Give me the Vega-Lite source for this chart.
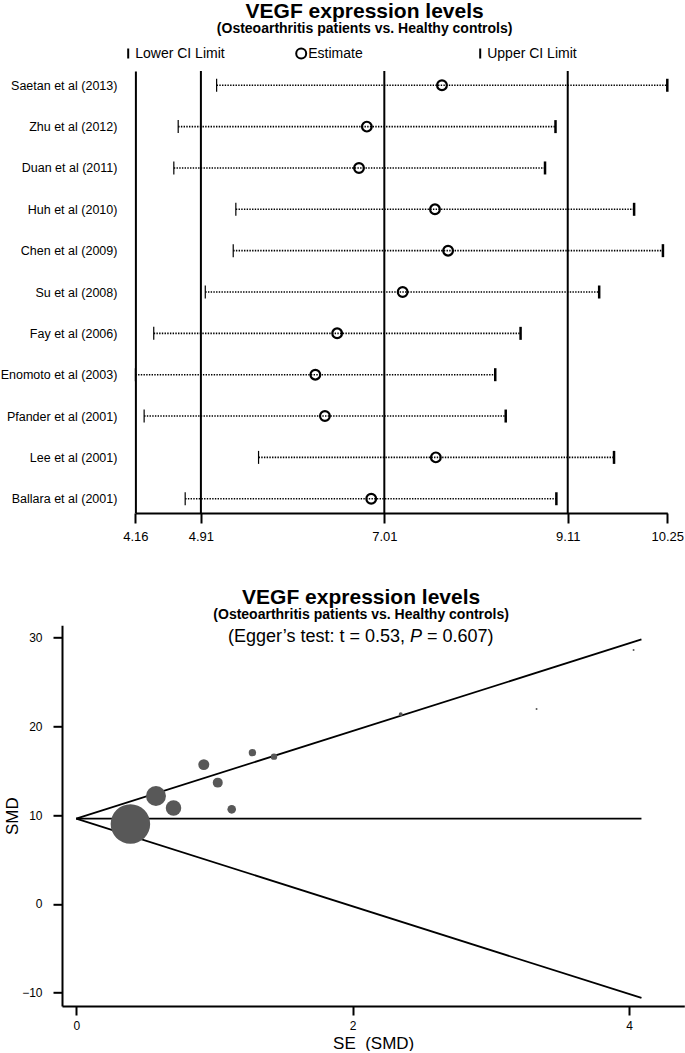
{
  "$schema": "https://vega.github.io/schema/vega-lite/v6.json",
  "padding": {"left": 0, "right": 0, "top": 1, "bottom": 0},
  "columns": 1,
  "spacing": 43.3,
  "resolve": {
    "scale": {"shape": "independent", "size": "independent"},
    "legend": {"shape": "independent", "size": "independent"}
  },
  "config": {
    "view": {"stroke": null},
    "font": "Liberation Sans",
    "axis": {
      "grid": false,
      "domainColor": "black",
      "tickColor": "black",
      "labelColor": "black",
      "titleColor": "black",
      "labelFont": "Liberation Sans",
      "titleFont": "Liberation Sans",
      "titleFontWeight": "normal"
    },
    "title": {
      "font": "Liberation Sans",
      "subtitleFont": "Liberation Sans",
      "color": "black",
      "subtitleColor": "black"
    }
  },
  "concat": [
    {
      "width": 605.3,
      "height": 442,
      "title": {
        "text": "VEGF expression levels",
        "subtitle": "(Osteoarthritis patients vs. Healthy controls)",
        "fontSize": 21,
        "fontWeight": "bold",
        "subtitleFontSize": 14,
        "subtitleFontWeight": "bold",
        "subtitlePadding": 0,
        "anchor": "middle",
        "offset": 10.5
      },
      "layer": [
        {
          "data": {"values": [{"ref": 4.91}, {"ref": 7.01}, {"ref": 9.11}]},
          "mark": {"type": "rule", "color": "black", "strokeWidth": 2},
          "encoding": {
            "x": {
              "field": "ref",
              "type": "quantitative",
              "title": null,
              "scale": {"domain": [4.16, 10.25], "range": [73.4, 605.3], "nice": false, "zero": false},
              "axis": {
                "values": [4.16, 4.91, 7.01, 9.11, 10.25],
                "format": ".2f",
                "tickSize": 10,
                "tickWidth": 2,
                "domainWidth": 2,
                "labelFontSize": 13,
                "labelPadding": 7,
                "labelFlush": false,
                "labelOverlap": false
              }
            }
          }
        },
        {
          "data": {
            "values": [
              {"study": "Saetan et al (2013)", "lower": 5.09, "est": 7.67, "upper": 10.25},
              {"study": "Zhu et al (2012)", "lower": 4.65, "est": 6.81, "upper": 8.97},
              {"study": "Duan et al (2011)", "lower": 4.60, "est": 6.72, "upper": 8.85},
              {"study": "Huh et al (2010)", "lower": 5.31, "est": 7.59, "upper": 9.87},
              {"study": "Chen et al (2009)", "lower": 5.28, "est": 7.74, "upper": 10.20},
              {"study": "Su et al (2008)", "lower": 4.96, "est": 7.22, "upper": 9.47},
              {"study": "Fay et al (2006)", "lower": 4.37, "est": 6.47, "upper": 8.57},
              {"study": "Enomoto et al (2003)", "lower": 4.16, "est": 6.22, "upper": 8.28},
              {"study": "Pfander et al (2001)", "lower": 4.26, "est": 6.33, "upper": 8.40},
              {"study": "Lee et al (2001)", "lower": 5.57, "est": 7.60, "upper": 9.64},
              {"study": "Ballara et al (2001)", "lower": 4.73, "est": 6.86, "upper": 8.98}
            ]
          },
          "layer": [
            {
              "mark": {"type": "rule", "color": "#000000", "strokeWidth": 1.6, "strokeDash": [1.4, 1.3]},
              "encoding": {
                "y": {
                  "field": "study",
                  "type": "nominal",
                  "sort": null,
                  "title": null,
                  "scale": {"type": "point", "padding": 0.345},
                  "axis": {
                    "ticks": false,
                    "offset": -73.4,
                    "domainWidth": 2,
                    "labelFontSize": 12.5,
                    "labelPadding": 18.5
                  }
                },
                "x": {"field": "lower", "type": "quantitative", "title": null},
                "x2": {"field": "upper"}
              }
            },
            {
              "mark": {"type": "point", "filled": false, "color": "black", "opacity": 1, "strokeWidth": 1.2, "size": 169},
              "encoding": {
                "y": {"field": "study", "type": "nominal", "sort": null, "title": null},
                "x": {"field": "lower", "type": "quantitative", "title": null},
                "shape": {
                  "datum": "Lower CI Limit",
                  "type": "nominal",
                  "scale": {
                    "domain": ["Lower CI Limit", "Estimate", "Upper CI Limit"],
                    "range": ["M0,-1L0,1", "circle", "M0,-1L0,1"]
                  },
                  "legend": {
                    "orient": "none",
                    "legendX": 59.2,
                    "legendY": -24.5,
                    "direction": "horizontal",
                    "title": null,
                    "padding": 0,
                    "labelFontSize": 14,
                    "labelColor": "black",
                    "labelOffset": 0,
                    "columnPadding": 67,
                    "symbolSize": 100,
                    "symbolStrokeColor": "black",
                    "symbolFillColor": "transparent",
                    "symbolStrokeWidth": 2,
                    "labelExpr": "datum.label === 'Estimate' ? 'Estimate\u00a0\u00a0\u00a0\u00a0\u00a0\u00a0\u00a0\u00a0\u00a0\u00a0\u00a0\u200b' : datum.label",
                    "encode": {
                      "symbols": {
                        "update": {
                          "strokeWidth": {"signal": "datum.value === 'Lower CI Limit' ? 2.6 : datum.value === 'Estimate' ? 2 : 1.2"},
                          "size": {"signal": "datum.value === 'Estimate' ? 55 : 100"}
                        }
                      }
                    }
                  }
                }
              }
            },
            {
              "mark": {"type": "point", "filled": false, "color": "black", "opacity": 1, "strokeWidth": 2.5, "size": 169},
              "encoding": {
                "y": {"field": "study", "type": "nominal", "sort": null, "title": null},
                "x": {"field": "upper", "type": "quantitative", "title": null},
                "shape": {"datum": "Upper CI Limit", "type": "nominal"}
              }
            },
            {
              "mark": {"type": "point", "filled": false, "color": "black", "opacity": 1, "strokeWidth": 2.2, "size": 95},
              "encoding": {
                "y": {"field": "study", "type": "nominal", "sort": null, "title": null},
                "x": {"field": "est", "type": "quantitative", "title": null},
                "shape": {"datum": "Estimate", "type": "nominal"}
              }
            }
          ]
        }
      ]
    },
    {
      "width": 622.3,
      "height": 380.7,
      "title": {
        "text": "VEGF expression levels",
        "subtitle": "(Osteoarthritis patients vs. Healthy controls)",
        "fontSize": 21,
        "fontWeight": "bold",
        "subtitleFontSize": 14,
        "subtitleFontWeight": "bold",
        "subtitlePadding": 0,
        "anchor": "middle",
        "dx": -12,
        "offset": 3.5
      },
      "layer": [
        {
          "data": {
            "values": [
              {"se": 0, "smd": 9.6, "se2": 4.09, "smd2": 29.8},
              {"se": 0, "smd": 9.6, "se2": 4.09, "smd2": 9.6},
              {"se": 0, "smd": 9.6, "se2": 4.09, "smd2": -10.6}
            ]
          },
          "mark": {"type": "rule", "color": "black", "strokeWidth": 1.8},
          "encoding": {
            "x": {
              "field": "se",
              "type": "quantitative",
              "title": "SE\u00a0\u00a0(SMD)",
              "scale": {"domain": [-0.103, 4.4], "nice": false, "zero": false},
              "axis": {
                "values": [0, 2, 4],
                "format": "d",
                "tickSize": 9,
                "tickWidth": 2,
                "domainWidth": 2,
                "labelFontSize": 12,
                "labelPadding": 5,
                "labelFlush": false,
                "titleFontSize": 17,
                "titlePadding": 4
              }
            },
            "y": {
              "field": "smd",
              "type": "quantitative",
              "title": "SMD",
              "scale": {"domain": [-11.51, 31.39], "nice": false, "zero": false},
              "axis": {
                "values": [-10, 0, 10, 20, 30],
                "format": "d",
                "tickSize": 9,
                "tickWidth": 2,
                "domainWidth": 2,
                "labelFontSize": 12,
                "labelPadding": 11,
                "labelFlush": false,
                "titleFontSize": 17,
                "titlePadding": 0
              }
            },
            "x2": {"field": "se2"},
            "y2": {"field": "smd2"}
          }
        },
        {
          "data": {
            "values": [
              {"se": 0.392, "smd": 9.0, "weight": 59.7},
              {"se": 0.577, "smd": 12.15, "weight": 15.3},
              {"se": 0.704, "smd": 10.8, "weight": 9.2},
              {"se": 0.923, "smd": 15.69, "weight": 4.6},
              {"se": 1.024, "smd": 13.66, "weight": 3.8},
              {"se": 1.125, "smd": 10.65, "weight": 2.8},
              {"se": 1.275, "smd": 17.04, "weight": 2.1},
              {"se": 1.431, "smd": 16.59, "weight": 1.6},
              {"se": 2.348, "smd": 21.36, "weight": 0.6},
              {"se": 3.331, "smd": 21.96, "weight": 0.15},
              {"se": 4.033, "smd": 28.6, "weight": 0.15}
            ]
          },
          "mark": {"type": "circle", "color": "#585858", "opacity": 1},
          "encoding": {
            "x": {"field": "se", "type": "quantitative", "title": "SE\u00a0\u00a0(SMD)"},
            "y": {"field": "smd", "type": "quantitative", "title": "SMD"},
            "size": {
              "field": "weight",
              "type": "quantitative",
              "scale": {"type": "linear", "domain": [0, 100], "range": [0, 2615]},
              "legend": null
            }
          }
        },
        {
          "data": {"values": [{"label": "(Egger’s test: t = 0.53,"}]},
          "mark": {"type": "text", "align": "right", "baseline": "alphabetic", "dx": -5, "fontSize": 18, "color": "black"},
          "encoding": {
            "x": {"datum": 2.415},
            "y": {"datum": 29.47},
            "text": {"field": "label"}
          }
        },
        {
          "data": {"values": [{"label": "P"}]},
          "mark": {"type": "text", "align": "left", "baseline": "alphabetic", "fontSize": 18, "fontStyle": "italic", "color": "black"},
          "encoding": {
            "x": {"datum": 2.415},
            "y": {"datum": 29.47},
            "text": {"field": "label"}
          }
        },
        {
          "data": {"values": [{"label": "= 0.607)"}]},
          "mark": {"type": "text", "align": "left", "baseline": "alphabetic", "dx": 17, "fontSize": 18, "color": "black"},
          "encoding": {
            "x": {"datum": 2.415},
            "y": {"datum": 29.47},
            "text": {"field": "label"}
          }
        }
      ]
    }
  ]
}
